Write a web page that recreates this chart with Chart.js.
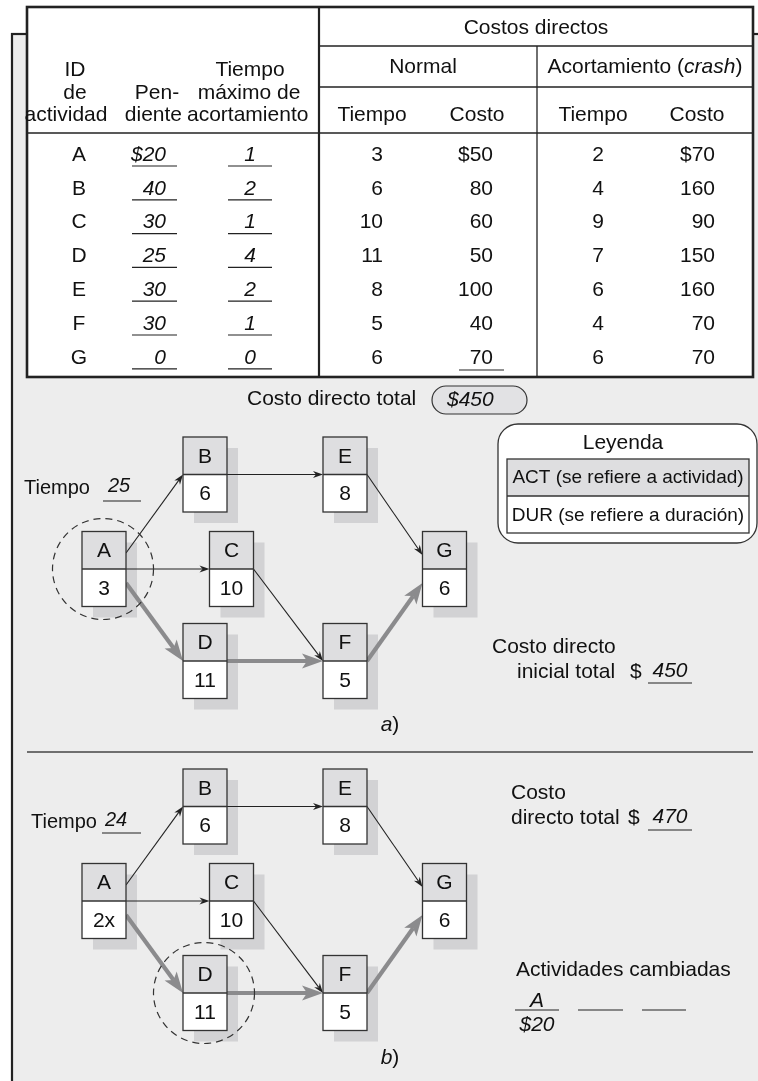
<!DOCTYPE html>
<html>
<head>
<meta charset="utf-8">
<script src="https://cdn.jsdelivr.net/npm/chart.js@4/dist/chart.umd.min.js"></script>
<style>
  html, body { margin: 0; padding: 0; background: #fff; }
  #wrap { width: 758px; height: 1081px; }
</style>
</head>
<body>
<div id="wrap"><canvas id="myChart"></canvas></div>
<script>
/* datos de la tabla */
const activities = ['A', 'B', 'C', 'D', 'E', 'F', 'G'];
const slopes = [20, 40, 30, 25, 30, 30, 0];
const maxCrash = [1, 2, 1, 4, 2, 1, 0];
const normalTime = [3, 6, 10, 11, 8, 5, 6];
const normalCost = [50, 80, 60, 50, 100, 40, 70];
const crashTime = [2, 4, 9, 7, 6, 4, 6];
const crashCost = [70, 160, 90, 150, 160, 70, 70];

/* red del proyecto */
const edgeFrom = ['A', 'A', 'A', 'B', 'C', 'D', 'E', 'F'];
const edgeTo = ['B', 'C', 'D', 'E', 'F', 'F', 'G', 'G'];
const critical = [false, false, true, false, false, true, false, true];

/* a) y b) */
const durationsA = normalTime;
const durationsB = ['2x', 6, 10, 11, 8, 5, 6];
const projectTime = [25, 24];
const circled = ['A', 'D'];
const changedActs = ['A'];
const changedCosts = [20];

const totalDirect = normalCost.reduce((acc, curr) => acc + curr, 0); // 450
const totalB = totalDirect + changedCosts.reduce((acc, curr) => acc + curr, 0); // 470

/* posiciones de la red (unidades de la escala) */
const nodeLayout = {
  A: [104, 569], B: [205, 474.5], C: [231.5, 569], D: [205, 661],
  E: [345, 474.5], F: [345, 661], G: [444.5, 569],
};
const diagramShift = [0, 332];
const edgeAttach = [[-16, 0], [0, 0], [14, 0], [0, 0], [0, 0], [0, 0], [0, -14], [0, 14]];

const FONT = '"Liberation Sans", Arial, Helvetica, sans-serif';
const INK = '#111';
const SIZE = 21;
const fnt = (size, italic) => (italic ? 'italic ' : '') + size + 'px ' + FONT;

function txt(ctx, s, x, y, align, italic, size) {
  ctx.font = fnt(size || SIZE, italic);
  ctx.textAlign = align || 'left';
  ctx.textBaseline = 'middle';
  ctx.fillStyle = INK;
  ctx.fillText(String(s), x, y);
}

function hline(ctx, x1, x2, y, w, color) {
  ctx.strokeStyle = color || '#222';
  ctx.lineWidth = w || 1.2;
  ctx.beginPath();
  ctx.moveTo(x1, y);
  ctx.lineTo(x2, y);
  ctx.stroke();
}

function vline(ctx, x, y1, y2, w, color) {
  ctx.strokeStyle = color || '#222';
  ctx.lineWidth = w || 1.2;
  ctx.beginPath();
  ctx.moveTo(x, y1);
  ctx.lineTo(x, y2);
  ctx.stroke();
}

// texto con partes en cursiva, centrado
function mixed(ctx, parts, cx, y, size) {
  let w = 0;
  parts.forEach((p) => { ctx.font = fnt(size, p[1]); w += ctx.measureText(p[0]).width; });
  let x = cx - w / 2;
  parts.forEach((p) => {
    txt(ctx, p[0], x, y, 'left', p[1], size);
    ctx.font = fnt(size, p[1]);
    x += ctx.measureText(p[0]).width;
  });
}

function arrow(ctx, x1, y1, x2, y2, crit) {
  const ang = Math.atan2(y2 - y1, x2 - x1);
  const L = crit ? 21 : 10, W = crit ? 7.5 : 3.5, N = crit ? 5 : 3;
  const color = crit ? '#8b8b8d' : '#222';
  ctx.strokeStyle = color;
  ctx.lineWidth = crit ? 4.2 : 1.1;
  ctx.beginPath();
  ctx.moveTo(x1, y1);
  ctx.lineTo(x2 - Math.cos(ang) * (L - N), y2 - Math.sin(ang) * (L - N));
  ctx.stroke();
  ctx.save();
  ctx.translate(x2, y2);
  ctx.rotate(ang);
  ctx.beginPath();
  ctx.moveTo(0, 0);
  ctx.lineTo(-L, -W);
  ctx.lineTo(-L + N, 0);
  ctx.lineTo(-L, W);
  ctx.closePath();
  ctx.fillStyle = color;
  ctx.fill();
  ctx.restore();
}

function drawTable(ctx) {
  const tL = 27, tR = 753, tT = 7, tB = 377, divX = 319, midX = 537;
  ctx.fillStyle = '#fff';
  ctx.fillRect(tL, tT, tR - tL, tB - tT);

  hline(ctx, divX, tR, 46, 1.3);
  hline(ctx, divX, tR, 87, 1.3);
  hline(ctx, tL, tR, 133, 1.3);
  vline(ctx, midX, 46, tB, 1.3);
  vline(ctx, divX, tT, tB, 2.2);
  ctx.strokeStyle = '#222';
  ctx.lineWidth = 2.6;
  ctx.strokeRect(tL, tT, tR - tL, tB - tT);

  // encabezados
  txt(ctx, 'Costos directos', 536, 28, 'center');
  txt(ctx, 'Normal', 423, 67, 'center');
  mixed(ctx, [['Acortamiento (', false], ['crash', true], [')', false]], 645, 67, SIZE);
  txt(ctx, 'Tiempo', 372, 115, 'center');
  txt(ctx, 'Costo', 477, 115, 'center');
  txt(ctx, 'Tiempo', 593, 115, 'center');
  txt(ctx, 'Costo', 697, 115, 'center');
  txt(ctx, 'ID', 75, 70, 'center');
  txt(ctx, 'de', 75, 93, 'center');
  txt(ctx, 'actividad', 66, 115, 'center');
  txt(ctx, 'Pen-', 157, 93, 'center');
  txt(ctx, 'diente', 182, 115, 'right');
  txt(ctx, 'Tiempo', 250, 70, 'center');
  txt(ctx, 'máximo de', 249, 93, 'center');
  txt(ctx, 'acortamiento', 187, 115, 'left');

  activities.forEach((a, i) => {
    const y = 155 + i * 33.8;
    txt(ctx, a, 79, y, 'center');
    txt(ctx, (i === 0 ? '$' : '') + slopes[i], 166, y, 'right', true);
    hline(ctx, 132, 177, y + 11, 1.2);
    txt(ctx, maxCrash[i], 250, y, 'center', true);
    hline(ctx, 228, 272, y + 11, 1.2);
    txt(ctx, normalTime[i], 383, y, 'right');
    txt(ctx, (i === 0 ? '$' : '') + normalCost[i], 493, y, 'right');
    txt(ctx, crashTime[i], 598, y, 'center');
    txt(ctx, (i === 0 ? '$' : '') + crashCost[i], 715, y, 'right');
  });
  hline(ctx, 459, 504, 370, 1.2);
}

function drawDiagram(chart, d) {
  const ctx = chart.ctx;
  const meta = chart.getDatasetMeta(d);
  const pos = {};
  activities.forEach((a, i) => { pos[a] = meta.data[i]; });
  const durs = d === 0 ? durationsA : durationsB;
  const bw = 44, bh = 75;

  // sombras
  ctx.fillStyle = '#d2d2d4';
  activities.forEach((a) => {
    const p = pos[a];
    ctx.fillRect(p.x - bw / 2 + 11, p.y - bh / 2 + 11, bw, bh);
  });

  // flechas
  edgeFrom.forEach((f, i) => {
    const s = pos[f], t = pos[edgeTo[i]];
    arrow(ctx, s.x + bw / 2, s.y + edgeAttach[i][0], t.x - bw / 2, t.y + edgeAttach[i][1], critical[i]);
  });

  // nodos
  activities.forEach((a, i) => {
    const p = pos[a];
    const x = p.x - bw / 2, y = p.y - bh / 2;
    ctx.fillStyle = '#dedee0';
    ctx.fillRect(x, y, bw, bh / 2);
    ctx.fillStyle = '#fff';
    ctx.fillRect(x, p.y, bw, bh / 2);
    ctx.strokeStyle = '#333';
    ctx.lineWidth = 1.3;
    ctx.strokeRect(x, y, bw, bh);
    hline(ctx, x, x + bw, p.y, 1.3, '#333');
    txt(ctx, a, p.x, p.y - bh / 4 + 1, 'center');
    txt(ctx, durs[i], p.x, p.y + bh / 4 + 1, 'center');
  });

  // círculo punteado
  const c = pos[circled[d]];
  ctx.save();
  ctx.setLineDash([7, 5]);
  ctx.strokeStyle = '#333';
  ctx.lineWidth = 1.2;
  ctx.beginPath();
  ctx.arc(c.x - 1, c.y, 50.5, 0, Math.PI * 2);
  ctx.stroke();
  ctx.restore();
}

const networkPlugin = {
  id: 'networkPlugin',
  beforeDraw(chart) {
    const ctx = chart.ctx;
    ctx.save();
    ctx.fillStyle = '#fff';
    ctx.fillRect(0, 0, chart.width, chart.height);
    // panel gris
    ctx.fillStyle = '#ededed';
    ctx.fillRect(12, 34, chart.width - 12, chart.height - 34);
    vline(ctx, 12, 33, chart.height, 2.2);
    hline(ctx, 11, 28, 34, 2.2);
    hline(ctx, 752, chart.width, 34, 2.2);
    ctx.restore();
  },
  afterDatasetsDraw(chart) {
    const ctx = chart.ctx;
    ctx.save();
    drawTable(ctx);

    // costo directo total
    txt(ctx, 'Costo directo total', 247, 399, 'left');
    ctx.beginPath();
    ctx.roundRect(432, 386, 95, 28, 14);
    ctx.fillStyle = '#e2e2e4';
    ctx.fill();
    ctx.strokeStyle = '#333';
    ctx.lineWidth = 1.2;
    ctx.stroke();
    txt(ctx, '$' + totalDirect, 447, 400, 'left', true);

    // leyenda
    ctx.beginPath();
    ctx.roundRect(498, 424, 259, 119, 20);
    ctx.fillStyle = '#fff';
    ctx.fill();
    ctx.lineWidth = 1.3;
    ctx.strokeStyle = '#333';
    ctx.stroke();
    txt(ctx, 'Leyenda', 623, 443, 'center');
    ctx.fillStyle = '#dedee0';
    ctx.fillRect(507, 459, 242, 37);
    ctx.strokeStyle = '#333';
    ctx.strokeRect(507, 459, 242, 74);
    hline(ctx, 507, 749, 496, 1.3, '#333');
    txt(ctx, 'ACT (se refiere a actividad)', 628, 478, 'center', false, 19);
    txt(ctx, 'DUR (se refiere a duración)', 628, 516, 'center', false, 19);

    drawDiagram(chart, 0);
    drawDiagram(chart, 1);

    // a)
    txt(ctx, 'Tiempo', 24, 488, 'left', false, 20);
    txt(ctx, projectTime[0], 108, 486, 'left', true, 20);
    hline(ctx, 103, 141, 501, 1.2);
    txt(ctx, 'Costo directo', 492, 647, 'left');
    txt(ctx, 'inicial total', 517, 672, 'left');
    txt(ctx, '$', 630, 672, 'left');
    txt(ctx, totalDirect, 670, 671, 'center', true);
    hline(ctx, 648, 692, 683, 1.2);
    mixed(ctx, [['a', true], [')', false]], 390, 725, SIZE);

    hline(ctx, 27, 753, 752, 1.5, '#444');

    // b)
    txt(ctx, 'Tiempo', 31, 822, 'left', false, 20);
    txt(ctx, projectTime[1], 105, 820, 'left', true, 20);
    hline(ctx, 102, 141, 833, 1.2);
    txt(ctx, 'Costo', 511, 793, 'left');
    txt(ctx, 'directo total', 511, 818, 'left');
    txt(ctx, '$', 628, 818, 'left');
    txt(ctx, totalB, 670, 817, 'center', true);
    hline(ctx, 648, 692, 830, 1.2);
    txt(ctx, 'Actividades cambiadas', 516, 970, 'left');
    changedActs.forEach((a, i) => {
      txt(ctx, a, 537, 1001, 'center', true);
      txt(ctx, '$' + changedCosts[i], 537, 1025, 'center', true);
    });
    hline(ctx, 515, 559, 1010, 1.2);
    hline(ctx, 578, 623, 1010, 1.2);
    hline(ctx, 642, 686, 1010, 1.2);
    mixed(ctx, [['b', true], [')', false]], 390, 1058, SIZE);

    ctx.restore();
  },
};

const ctx = document.getElementById('myChart');

new Chart(ctx, {
  type: 'scatter',
  data: {
    datasets: diagramShift.map((shift, d) => ({
      label: d === 0 ? 'a' : 'b',
      data: activities.map((a) => ({ x: nodeLayout[a][0], y: nodeLayout[a][1] + shift })),
      pointRadius: 0,
    })),
  },
  options: {
    responsive: true,
    maintainAspectRatio: false,
    devicePixelRatio: 1,
    animation: false,
    layout: { padding: 0 },
    plugins: {
      legend: { display: false },
      tooltip: { enabled: false },
    },
    scales: {
      x: { type: 'linear', min: 0, max: 758, display: false },
      y: { type: 'linear', min: 0, max: 1081, reverse: true, display: false },
    },
  },
  plugins: [networkPlugin],
});
</script>
</body>
</html>
